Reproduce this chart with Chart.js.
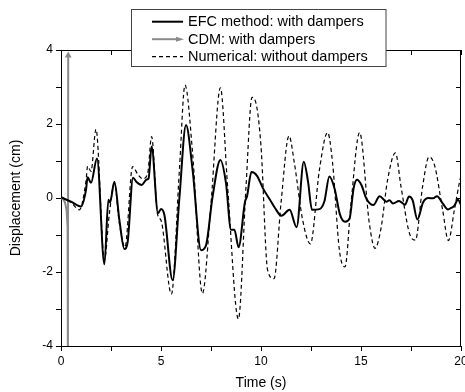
<!DOCTYPE html>
<html><head><meta charset="utf-8">
<script src="https://cdn.jsdelivr.net/npm/chart.js@4/dist/chart.umd.min.js"></script>
<style>html,body{margin:0;padding:0;background:#fff}#wrap{width:465px;height:392px;position:relative}</style>
</head><body><div id="wrap"><canvas id="c" width="465" height="392"></canvas></div>
<script>
const seriesNames = ['EFC method: with dampers', 'CDM: with dampers', 'Numerical: without dampers'];
const xTitle = 'Time (s)';
const yTitle = 'Displacement (cm)';
const xTickLabels = [0, 5, 10, 15, 20];
const yTickLabels = [-4, -2, 0, 2, 4];

const efcTime = [0,0.5,1.0,1.25,1.33,1.5,1.8,2.17,2.37,2.45,2.67,2.92,3.17,3.33,3.6,3.78,4.03,4.28,4.38,4.53,4.85,5.0,5.17,5.58,5.92,6.25,6.58,7.0,7.25,7.58,7.97,8.25,8.5,8.67,8.88,9.2,9.3,9.52,9.8,10.1,10.45,10.7,11.02,11.43,11.78,12.14,12.35,12.55,12.93,13.17,13.42,13.68,13.95,14.2,14.43,14.63,14.8,15.02,15.27,15.62,15.93,16.27,16.42,16.6,16.9,17.2,17.4,17.58,17.82,18.1,18.37,18.6,18.8,19.1,19.35,19.5,19.65,19.85,20];
const efcDisp = [0.02,-0.1,-0.23,0.22,0.56,0.41,1.07,-1.79,-0.05,-0.12,0.44,-0.6,-1.38,-1.2,0.55,0.43,0.35,0.5,0.53,1.39,-0.41,-0.3,-0.46,-2.22,0.0,1.97,0.76,-1.41,-1.28,0.04,1.03,0.4,-0.86,-0.86,-1.33,-0.1,0.04,0.7,0.6,0.26,-0.05,-0.27,-0.48,-0.32,-0.79,0.98,0.45,-0.32,-0.3,-0.09,0.58,0.25,-0.45,-0.64,-0.55,0.26,0.49,0.35,-0.02,-0.19,0.05,-0.1,-0.06,-0.15,-0.08,-0.18,0.04,-0.06,-0.58,-0.12,0.0,-0.01,0.05,-0.16,-0.31,-0.27,-0.22,-0.05,-0.19];

const cdmTime = [0,0.1,0.2,0.28,0.33,0.345,0.36];
const cdmDisp = [0,-0.03,-0.12,-0.33,-0.8,-4.6,3.85];

const numTime = [0,0.5,0.92,1.25,1.33,1.5,1.75,2.17,2.42,2.67,2.92,3.2,3.58,3.83,4.08,4.33,4.53,4.83,5.0,5.52,5.92,6.2,6.58,7.07,7.5,7.97,8.33,8.87,9.25,9.55,9.72,10.0,10.33,10.65,11.0,11.4,11.67,12.08,12.47,12.92,13.33,13.58,13.92,14.2,14.5,14.93,15.42,15.7,16.0,16.33,16.72,17.0,17.42,17.72,18.08,18.4,18.68,19.08,19.37,19.67,19.93,20];
const numDisp = [0,-0.12,-0.32,0.46,0.86,0.72,1.86,-1.68,-0.41,0.4,-0.69,-1.33,0.85,0.65,0.52,0.65,1.66,-0.45,-0.6,-2.6,0.76,3.05,1.21,-2.58,-0.14,2.98,0.31,-3.27,0.31,2.72,2.62,1.4,-1.95,-2.18,-0.14,1.68,0.94,-0.59,-1.24,0.76,1.77,0.94,-1.41,-1.86,-0.14,1.77,-0.7,-1.36,-0.82,0.49,1.22,0.31,-0.95,-1.14,0.31,1.11,0.88,-0.32,-1.15,-0.32,0.44,0.6];

const FONT = "'Liberation Sans', Arial, sans-serif";
function pts(t, v) { return t.map((x, i) => ({ x: x, y: v[i] })); }
function withMinor(major) {
  const out = [];
  for (let i = 0; i < major.length; i++) {
    out.push(major[i]);
    if (i < major.length - 1) out.push((major[i] + major[i + 1]) / 2);
  }
  return out;
}

const framePlugin = {
  id: 'frame',
  afterDraw(chart) {
    const ctx = chart.ctx, a = chart.chartArea, xs = chart.scales.x, ys = chart.scales.y;
    ctx.save();
    ctx.strokeStyle = '#000';
    ctx.lineWidth = 1;
    ctx.beginPath();
    ctx.moveTo(a.left, a.top + 0.5); ctx.lineTo(a.right, a.top + 0.5);
    ctx.moveTo(a.right - 0.5, a.top); ctx.lineTo(a.right - 0.5, a.bottom);
    xs.ticks.forEach(tk => {
      const px = Math.round(xs.getPixelForValue(tk.value)) + 0.5;
      ctx.moveTo(px, a.top); ctx.lineTo(px, a.top + 5);
    });
    ys.ticks.forEach(tk => {
      const py = Math.round(ys.getPixelForValue(tk.value)) + 0.5;
      ctx.moveTo(a.right, py); ctx.lineTo(a.right - 5, py);
    });
    ctx.stroke();

    // legend box
    const bx = 131.5, by = 9.5, bw = 254.5, bh = 57;
    ctx.fillStyle = '#fff';
    ctx.fillRect(bx, by, bw, bh);
    ctx.strokeStyle = '#444';
    ctx.strokeRect(bx, by, bw, bh);
    const rows = [21.7, 39.2, 56.6];
    ctx.font = '14.5px ' + FONT;
    ctx.textBaseline = 'middle';
    ctx.textAlign = 'left';
    chart.data.datasets.forEach((ds, i) => {
      const y = rows[i];
      ctx.save();
      ctx.strokeStyle = ds.borderColor;
      ctx.lineWidth = ds.borderWidth;
      ctx.setLineDash(ds.borderDash || []);
      ctx.beginPath();
      ctx.moveTo(152, y); ctx.lineTo(i === 1 ? 178 : 183, y);
      ctx.stroke();
      if (i === 1) {
        ctx.fillStyle = ds.borderColor;
        ctx.beginPath();
        ctx.moveTo(184, y); ctx.lineTo(176, y - 2.5); ctx.lineTo(176, y + 2.5); ctx.closePath();
        ctx.fill();
      }
      ctx.restore();
      ctx.fillStyle = '#000';
      ctx.fillText(ds.label, 188, y + 0.5);
    });
    ctx.restore();
  }
};

new Chart(document.getElementById('c'), {
  type: 'line',
  data: {
    datasets: [
      { label: seriesNames[0], data: pts(efcTime, efcDisp), borderColor: '#000', borderWidth: 2,
        cubicInterpolationMode: 'monotone', pointRadius: 0, fill: false },
      { label: seriesNames[1], data: pts(cdmTime, cdmDisp), borderColor: '#8a8a8a', backgroundColor: '#8a8a8a',
        borderWidth: 2, tension: 0, pointStyle: 'triangle',
        pointRadius: cdmTime.map((_, i) => i === cdmTime.length - 1 ? 4 : 0), pointBorderWidth: 0, fill: false },
      { label: seriesNames[2], data: pts(numTime, numDisp), borderColor: '#000', borderWidth: 1.2, borderDash: [4, 3],
        cubicInterpolationMode: 'monotone', pointRadius: 0, fill: false }
    ]
  },
  options: {
    responsive: false, animation: false, devicePixelRatio: 1,
    layout: { padding: { top: 50, right: 4, left: 0, bottom: 0 } },
    plugins: { legend: { display: false }, tooltip: { enabled: false } },
    scales: {
      x: {
        type: 'linear', min: 0, max: 20,
        afterBuildTicks(s) { s.ticks = withMinor(xTickLabels).map(v => ({ value: v })); },
        afterFit(s) { s.height = 46; s.paddingLeft = 0; s.paddingRight = 0; },
        ticks: { autoSkip: false, maxRotation: 0, padding: 3, color: '#000', font: { size: 12, family: FONT },
          callback: v => xTickLabels.includes(v) ? String(v) : '' },
        grid: { display: true, drawOnChartArea: false, drawTicks: true, tickLength: 5, color: '#000', lineWidth: 1 },
        border: { display: true, color: '#000', width: 1 },
        title: { display: true, text: xTitle, color: '#000', font: { size: 14, family: FONT }, padding: { top: 0, bottom: 0 } }
      },
      y: {
        type: 'linear', min: -4, max: 4,
        afterBuildTicks(s) { s.ticks = withMinor(yTickLabels).map(v => ({ value: v })); },
        afterFit(s) { s.width = 61; s.paddingTop = 0; s.paddingBottom = 0; },
        ticks: { autoSkip: false, padding: 3, color: '#000', font: { size: 12, family: FONT },
          callback: v => yTickLabels.includes(v) ? String(v) : '' },
        grid: { display: true, drawOnChartArea: false, drawTicks: true, tickLength: 5, color: '#000', lineWidth: 1 },
        border: { display: true, color: '#000', width: 1 },
        title: { display: true, text: yTitle, color: '#000', font: { size: 14, family: FONT }, padding: { top: 8, bottom: 0 } }
      }
    }
  },
  plugins: [framePlugin]
});
</script>
</body></html>
